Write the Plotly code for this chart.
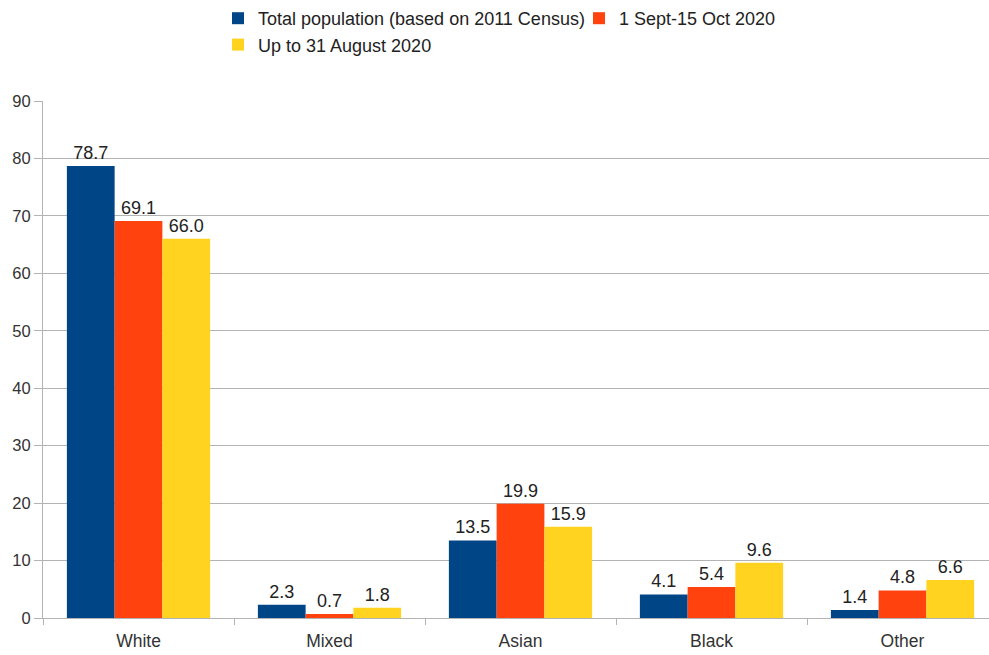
import plotly.graph_objects as go

categories = ["White", "Mixed", "Asian", "Black", "Other"]
series_names = ["Total population (based on 2011 Census)", "1 Sept-15 Oct 2020", "Up to 31 August 2020"]
census_2011 = [78.7, 2.3, 13.5, 4.1, 1.4]
sept_oct_2020 = [69.1, 0.7, 19.9, 5.4, 4.8]
to_aug_2020 = [66.0, 1.8, 15.9, 9.6, 6.6]
colors = ["#004586", "#ff420e", "#ffd320"]
y_ticks = [0, 10, 20, 30, 40, 50, 60, 70, 80, 90]

W = 998  # figure slightly wider than the window: the reference crops the right edge

fig = go.Figure()
for name, vals, col in zip(series_names, [census_2011, sept_oct_2020, to_aug_2020], colors):
    fig.add_trace(go.Bar(
        x=categories, y=vals, name=name, marker=dict(color=col, line=dict(width=0)),
        texttemplate="%{y:.1f}", textposition="outside", cliponaxis=False,
        textfont=dict(size=18, color="#222222"),
    ))

fig.update_layout(
    width=W, height=655,
    margin=dict(l=43, r=0, t=101, b=37),
    paper_bgcolor="white", plot_bgcolor="white",
    font=dict(family="Liberation Sans, Arial, sans-serif", size=17, color="#333333"),
    barmode="group", bargap=0.25, bargroupgap=0,
    legend=dict(orientation="h", xref="container", yref="container",
                x=218/W, xanchor="left", y=1.0, yanchor="top",
                entrywidth=316, entrywidthmode="pixels",
                font=dict(size=18, color="#222222"), traceorder="normal"),
)
fig.update_yaxes(range=[0, 90], tickvals=y_ticks, showgrid=True, gridcolor="#b3b3b3",
                 gridwidth=1, showline=True, linecolor="#b3b3b3", ticks="outside",
                 ticklen=8, tickcolor="#b3b3b3", tickfont=dict(size=16.5, color="#333333"),
                 zeroline=False, automargin=False)
fig.update_xaxes(showgrid=False, showline=True, linecolor="#b3b3b3", ticks="outside",
                 tickson="boundaries", ticklen=6, tickcolor="#b3b3b3", ticklabelstandoff=7,
                 tickfont=dict(size=17.5, color="#333333"), automargin=False)

fig.write_html("out.html", config={"displayModeBar": False},
               post_script="document.body.style.margin='0';document.body.style.overflow='hidden';")
